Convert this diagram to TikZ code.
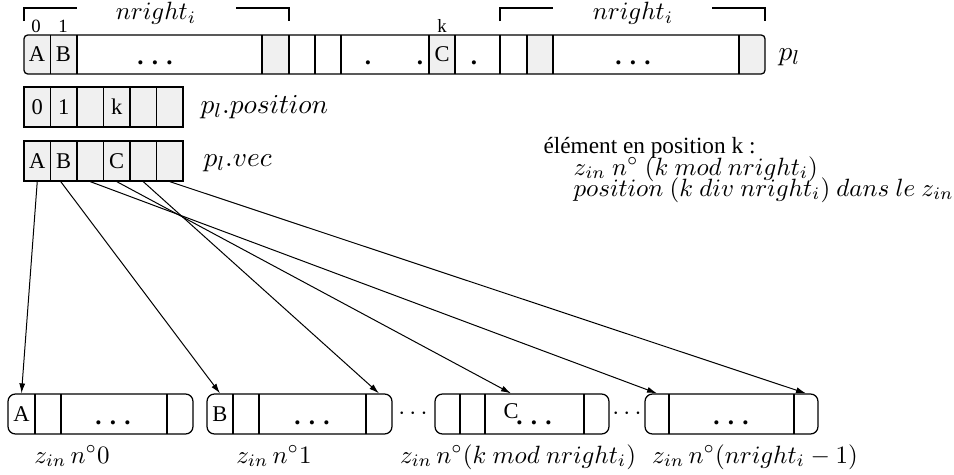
\documentclass[tikz,border=0pt]{standalone}
\usepackage{fontspec}
\setmainfont{Liberation Serif}
\usetikzlibrary{arrows.meta, positioning}
\definecolor{cellgrey}{HTML}{F0F0F0}
\tikzset{
  every picture/.style={line width=0.5pt, x=0.4pt, y=-0.4pt},
  cell/.style={draw, fill=cellgrey, minimum width=10.6pt, minimum height=16pt, inner sep=0pt, font=\fontsize{9}{10}\selectfont},
  slot/.style={minimum height=16pt, inner sep=0pt, font=\fontsize{9}{10}\selectfont},
  idx/.style={anchor=base, inner sep=0pt, font=\fontsize{7.5}{8}\selectfont},
  dots/.style={anchor=base, inner sep=0pt, font=\bfseries\fontsize{10}{12}\selectfont},
  lbl/.style={anchor=base west, inner sep=0pt},
  pointer/.style={-{Latex[length=4pt, width=2.4pt]}, line width=0.4pt},
}

\begin{document}
\begin{tikzpicture}
  \useasboundingbox (0,0) rectangle (954,474);

  % the array p_l
  \begin{scope}
    \clip[rounded corners=1.5pt] (24,35) rectangle (765,74);
    \foreach \a/\b in {24/50.5, 50.5/77, 262/289, 429/455, 527/553, 739/765}
      \fill[cellgrey] (\a,35) rectangle (\b,74);
  \end{scope}
  \draw[rounded corners=1.5pt] (24,35) rectangle (765,74);
  \foreach \x in {50.5,77,262,289,315,341,429,455,500,527,553,739}
    \draw (\x,35) -- (\x,74);
  \node[slot] (plA) at (37,54.5) {A};
  \node[slot] (plB) at (63.5,54.5) {B};
  \node[slot] (plC) at (442,54.5) {C};
  \node[dots] (pld1) at (155,64) {. . .};
  \node[dots] (pld2) at (368,64) {.};
  \node[dots] (pld3) at (420,64) {.};
  \node[dots] (pld4) at (474,64) {.};
  \node[dots] (pld5) at (633,64) {. . .};
  \node[idx] (i0) at (36,32.5) {0};
  \node[idx] (i1) at (63,32.5) {1};
  \node[idx] (ik) at (442,32.5) {k};
  \node[lbl, font=\fontsize{11}{13}\selectfont] (pl) at (778,60) {$p_l$};

  % brackets nright_i
  \draw (24,21) -- (24,8) -- (77,8);
  \draw (236,8) -- (289,8) -- (289,21);
  \node (nr1) at (156,13) {$nright_i$};
  \draw (500,21) -- (500,8) -- (553,8);
  \draw (712,8) -- (765,8) -- (765,21);
  \node (nr2) at (633,13) {$nright_i$};

  % p_l.position and p_l.vec
  \foreach \i/\t in {1/0,2/1,3/,4/k,5/,6/}
    \node[cell] (pos\i) at ({24+26.5*(\i-0.5)},107) {\t};
  \foreach \i/\t in {1/A,2/B,3/,4/C,5/,6/}
    \node[cell] (vec\i) at ({24+26.5*(\i-0.5)},161) {\t};
  \node[lbl, font=\fontsize{11}{13}\selectfont] (lpos) at (200,113) {$p_l.position$};
  \node[lbl, font=\fontsize{11}{13}\selectfont] (lvec) at (203,166) {$p_l.vec$};

  % note
  \node[lbl, font=\fontsize{9.3}{11}\selectfont] (note1) at (543,153) {élément en position k :};
  \node[lbl] (note2) at (573,175) {$z_{in}\ n^\circ\ (k\ mod\ nright_i)$};
  \node[lbl] (note3) at (573,196) {$position\ (k\ div\ nright_i)\ dans\ le\ z_{in}$};

  % the z_in
  \draw[rounded corners=3pt] (8,394) rectangle (193,434);
  \foreach \x in {35,61,167} \draw (\x,394) -- (\x,434);
  \node[slot] (z0-1) at (21.5,414) {A};
  \node[dots] (z0d) at (113,424) {. . .};

  \draw[rounded corners=3pt] (207,394) rectangle (392,434);
  \foreach \x in {233,259,366} \draw (\x,394) -- (\x,434);
  \node[slot] (z1-1) at (220,414) {B};
  \node[slot] (z1-4) at (379,414) {};
  \node[dots] (z1d) at (312,424) {. . .};

  \node (gap1) at (413,414) {$\cdots$};

  \draw[rounded corners=3pt] (435,394) rectangle (609,434);
  \foreach \x in {460,485,584} \draw (\x,394) -- (\x,434);
  \node[slot] (zk-C) at (511,414) {\raisebox{2.4pt}{C}};
  \node[dots] (zkd) at (534,424) {. . .};

  \node (gap2) at (627,414) {$\cdots$};

  \draw[rounded corners=3pt] (645,394) rectangle (818,434);
  \foreach \x in {669,794} \draw (\x,394) -- (\x,434);
  \node[slot] (zl-1) at (657,414) {};
  \node[slot] (zl-3) at (806,414) {};
  \node[dots] (zld) at (731,424) {. . .};

  \node[anchor=base] (lz0) at (72,463) {$z_{in}\,n^\circ 0$};
  \node[anchor=base] (lz1) at (274,463) {$z_{in}\,n^\circ 1$};
  \node[anchor=base] (lzk) at (518,463) {$z_{in}\,n^\circ (k\ mod\ nright_i)$};
  \node[anchor=base] (lzl) at (755,463) {$z_{in}\,n^\circ (nright_i - 1)$};

  % pointers
  \draw[pointer] (vec1.south) -- (z0-1.north);
  \draw[pointer] ([xshift=-1.2pt]vec2.south) -- (z1-1.north);
  \draw[pointer] (vec3.south) -- (zl-1.north);
  \draw[pointer] (vec4.south) -- (zk-C.north);
  \draw[pointer] (vec5.south) -- (z1-4.north);
  \draw[pointer] (vec6.south) -- (zl-3.north);
\end{tikzpicture}
\end{document}
